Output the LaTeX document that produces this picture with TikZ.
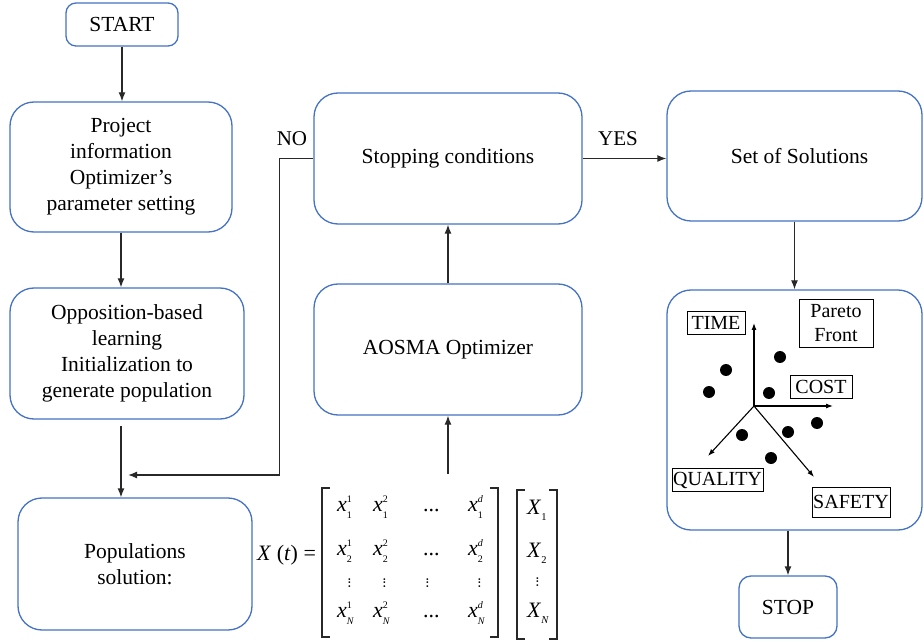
\documentclass[tikz,border=0pt]{standalone}
\usepackage{fontspec}
\setmainfont{Liberation Serif}
\usetikzlibrary{arrows.meta,calc}
\definecolor{bblue}{RGB}{68,114,196}
\definecolor{aline}{RGB}{40,40,40}
\newcommand{\ent}[3]{\textit{#1}\rlap{\raisebox{8.5pt}{\fontsize{10}{10}\selectfont #2}}\raisebox{-7.5pt}{\fontsize{10}{10}\selectfont #3}}
\newcommand{\bigX}[1]{\textit{X}\raisebox{-6.5pt}{\fontsize{10.5}{10.5}\selectfont #1}}
\begin{document}
\begin{tikzpicture}[x=1pt,y=-1pt,
 box/.style={draw=bblue,line width=1.3pt,rounded corners=24pt,align=center,font=\fontsize{21.5}{26}\selectfont,inner sep=2pt},
 arr/.style={draw=aline,line width=1.3pt,-{Latex[length=9pt,width=7pt]}},
 lab/.style={font=\fontsize{21}{25}\selectfont},
 tag/.style={draw=black,line width=0.9pt,inner sep=1pt,minimum height=23pt,font=\fontsize{20}{24}\selectfont,align=center},
 axis/.style={draw=black,line width=1.1pt,-{Latex[length=7pt,width=5pt]}},
 pdot/.style={circle,fill=black,inner sep=0pt,minimum size=12pt},
 brk/.style={draw=aline,line width=1.3pt},
 mx/.style={font=\fontsize{22}{22}\selectfont,inner sep=0pt,anchor=base west},
 vd/.style={font=\fontsize{15}{15}\selectfont,inner sep=0pt,anchor=base,rotate=90},
 ]
\useasboundingbox (0,0) rectangle (924,644);

% main boxes
\node[box,rounded corners=10pt,minimum width=112,minimum height=43] (start) at (122,24.5) {START};
\node[box,minimum width=222,minimum height=130] (proj) at (121,167) {Project\\information\\Optimizer’s\\parameter setting};
\node[box,minimum width=234,minimum height=131] (opp) at (127,353.5) {Opposition-based\\learning\\Initialization to\\generate population};
\node[box,minimum width=234,minimum height=132] (pop) at (135,564) {Populations\\solution:};
\node[box,minimum width=268,minimum height=131] (stopc) at (448,158.5) {Stopping conditions};
\node[box,minimum width=268,minimum height=131] (aosma) at (448,349.5) {AOSMA Optimizer};
\node[box,minimum width=255,minimum height=130] (set) at (794.5,156) {\hspace*{10pt}Set of Solutions};
\node[box,minimum width=255,minimum height=240] (par) at (794.5,410) {};
\node[box,rounded corners=12pt,minimum width=98,minimum height=62] (stp) at (788,607) {STOP};

% labels
\node[lab] (no) at (292,139) {NO};
\node[lab] (yes) at (618,139) {YES};

% connectors
\draw[arr] (start.south) -- (start.south |- proj.north);
\draw[arr] (proj.south) -- (proj.south |- opp.north);
\draw[arr] ($(opp.south -| proj.south)+(0,6)$) -- (pop.north -| proj.south);
\coordinate (nend) at (128,475);
\draw[arr] (stopc.west) -- ++(-34,0) |- (nend);
\draw[arr] (stopc.east) -- (stopc.east -| set.west);
\draw[arr] (set.south) -- (set.south |- par.north);
\draw[arr] (par.south -| stp.north) -- (stp.north);
\draw[arr] (aosma.north) -- (stopc.south);
\coordinate (mtop) at (448,474);
\draw[arr] (mtop) -- (aosma.south);

% Pareto front content
\coordinate (o) at (754,406);
\coordinate (tT) at (754,323);
\coordinate (tC) at (833,406);
\coordinate (tQ) at (708,456);
\coordinate (tS) at (814,477);
\draw[axis] (o) -- (tT);
\draw[axis] (o) -- (tC);
\draw[axis] (o) -- (tQ);
\draw[axis] (o) -- (tS);
\node[tag,minimum width=58] (time) at (716,322.5) {TIME};
\node[tag,minimum width=74,minimum height=48] (pf) at (836,323) {Pareto\\Front};
\node[tag,minimum width=62] (cost) at (821,387) {COST};
\node[tag,minimum width=91] (qual) at (717.5,480) {QUALITY};
\node[tag,minimum width=78,minimum height=30] (safe) at (851,502) {SAFETY};
\node[pdot] (d1) at (780,357) {};
\node[pdot] (d2) at (726,370) {};
\node[pdot] (d3) at (709,392) {};
\node[pdot] (d4) at (769,393) {};
\node[pdot] (d5) at (817,423) {};
\node[pdot] (d6) at (788,432) {};
\node[pdot] (d7) at (742,435) {};
\node[pdot] (d8) at (771,458) {};

% matrix equation
\node[mx] (xt) at (257,560) {\textit{X} (\textit{t}) =};
\draw[brk] (330,488) -| (322,637) -- (330,637);
\draw[brk] (490,488) -| (498,637) -- (490,637);
\draw[brk] (525,490) -| (517,639) -- (525,639);
\draw[brk] (549,490) -| (557,639) -- (549,639);

\node[mx] (m11) at (337,511) {\ent{x}{1}{1}};
\node[mx] (m12) at (373,511) {\ent{x}{2}{1}};
\node[mx] (m13) at (423,511) {...};
\node[mx] (m14) at (468,511) {\ent{x}{\textit{d}}{1}};
\node[mx] (m21) at (337,555) {\ent{x}{1}{2}};
\node[mx] (m22) at (373,555) {\ent{x}{2}{2}};
\node[mx] (m23) at (423,555) {...};
\node[mx] (m24) at (468,555) {\ent{x}{\textit{d}}{2}};
\node[vd] (v1) at (350,583) {...};
\node[vd] (v2) at (385,583) {...};
\node[vd] (v3) at (428,583) {...};
\node[vd] (v4) at (480,583) {...};
\node[mx] (m41) at (337,617) {\ent{x}{1}{\textit{N}}};
\node[mx] (m42) at (373,617) {\ent{x}{2}{\textit{N}}};
\node[mx] (m43) at (423,617) {...};
\node[mx] (m44) at (468,617) {\ent{x}{\textit{d}}{\textit{N}}};

\node[mx] (c1) at (527,514) {\bigX{1}};
\node[mx] (c2) at (527,557) {\bigX{2}};
\node[vd] (c3) at (538,582) {...};
\node[mx] (c4) at (527,617) {\bigX{\textit{N}}};
\end{tikzpicture}
\end{document}
